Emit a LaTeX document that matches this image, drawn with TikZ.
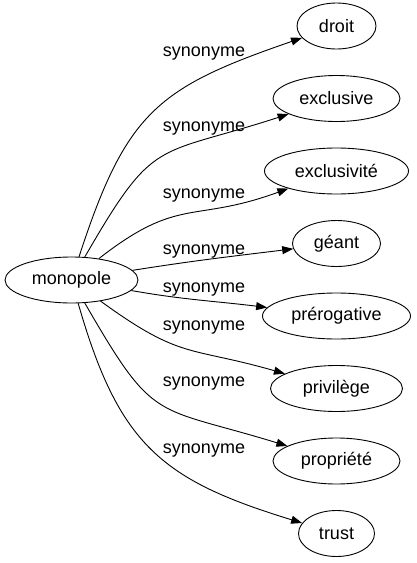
\documentclass[tikz,border=0pt]{standalone}
\usepackage{fontspec}
\setmainfont{Liberation Sans}
\usetikzlibrary{shapes.geometric,arrows.meta}
\begin{document}
\begin{tikzpicture}[x=1pt,y=-1pt,
  word/.style={ellipse,draw,line width=0.9pt,inner sep=0pt,minimum height=46pt,font=\fontsize{18}{20}\selectfont},
  rel/.style={font=\fontsize{18}{20}\selectfont,anchor=base,inner sep=0pt},
  edge/.style={line width=0.9pt,-{Triangle[length=11pt,width=8pt]}}]
\useasboundingbox (0,0) rectangle (416,563);
\node[word,minimum width=133pt] (m) at (71.5,280) {monopole};
\node[word,minimum width=79pt]  (n1) at (336.5,26) {droit};
\node[word,minimum width=127pt] (n2) at (336.5,98.5) {exclusive};
\node[word,minimum width=144pt] (n3) at (336.5,171) {exclusivité};
\node[word,minimum width=88pt]  (n4) at (336.5,243.5) {géant};
\node[word,minimum width=148pt] (n5) at (336.5,316) {prérogative};
\node[word,minimum width=132pt] (n6) at (336.5,388.5) {privilège};
\node[word,minimum width=127pt] (n7) at (336.5,461) {propriété};
\node[word,minimum width=76pt]  (n8) at (336.5,533.5) {trust};
\draw[edge] (m) to[out=72,in=199,looseness=1.25] (n1);
\draw[edge] (m) to[out=60,in=198,looseness=1.45] (n2);
\draw[edge] (m) to[out=38,in=200,looseness=1.3] (n3);
\draw[edge] (m) to[out=9,in=187] (n4);
\draw[edge] (m) to[out=-10,in=173] (n5);
\draw[edge] (m) to[out=-36,in=164,looseness=1.3] (n6);
\draw[edge] (m) to[out=-60,in=163,looseness=1.45] (n7);
\draw[edge] (m) to[out=-74,in=163,looseness=1.2] (n8);
\node[rel] (l1) at (204,56) {synonyme};
\node[rel] (l2) at (204,131) {synonyme};
\node[rel] (l3) at (204,198) {synonyme};
\node[rel] (l4) at (204,254) {synonyme};
\node[rel] (l5) at (204,292) {synonyme};
\node[rel] (l6) at (204,330) {synonyme};
\node[rel] (l7) at (204,386) {synonyme};
\node[rel] (l8) at (204,453) {synonyme};
\end{tikzpicture}
\end{document}
